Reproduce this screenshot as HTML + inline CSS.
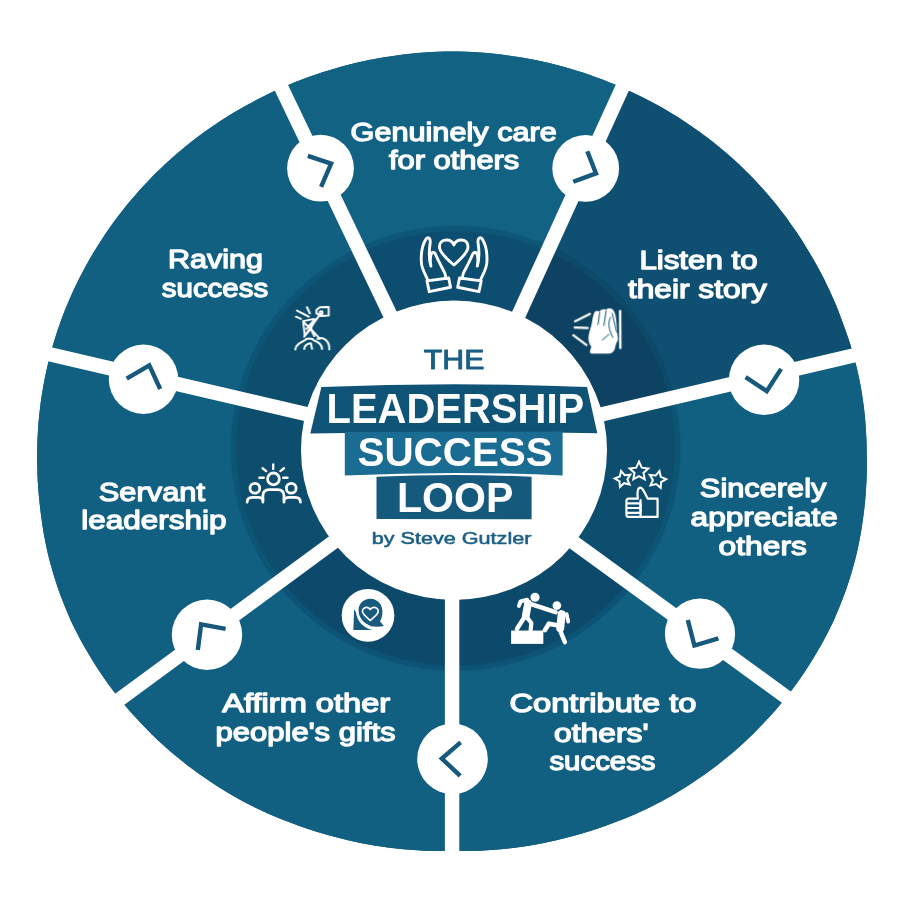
<!DOCTYPE html>
<html lang="en"><head><meta charset="utf-8"><title>The Leadership Success Loop</title>
<style>
html,body{margin:0;padding:0;background:#fff;}
body{width:900px;height:900px;overflow:hidden;font-family:'Liberation Sans', sans-serif;}
svg{display:block;}
</style></head><body>
<svg width="900" height="900" viewBox="0 0 900 900">
<defs>
<clipPath id="cOut"><path d="M37.2,451.5 L37.3,444.3 L37.6,437.0 L38.0,429.8 L38.5,422.6 L39.2,415.4 L40.0,408.2 L40.9,401.0 L42.0,393.8 L43.2,386.7 L44.5,379.6 L46.0,372.5 L47.6,365.5 L49.3,358.5 L51.1,351.5 L53.1,344.6 L55.2,337.7 L57.4,330.8 L59.8,324.0 L62.2,317.2 L64.8,310.5 L67.6,303.8 L70.4,297.2 L73.3,290.7 L76.4,284.2 L79.6,277.7 L82.9,271.4 L86.3,265.1 L89.9,258.8 L93.5,252.6 L97.3,246.5 L101.1,240.5 L105.0,234.5 L109.1,228.6 L113.2,222.8 L117.4,217.1 L121.8,211.4 L126.2,205.8 L130.8,200.3 L135.4,194.9 L140.1,189.6 L144.9,184.4 L149.8,179.2 L154.8,174.1 L159.9,169.2 L165.0,164.3 L170.3,159.5 L175.6,154.8 L181.0,150.2 L186.4,145.7 L192.0,141.3 L197.6,137.0 L203.3,132.8 L209.0,128.7 L214.8,124.7 L220.7,120.8 L226.6,117.0 L232.6,113.3 L238.7,109.8 L244.8,106.3 L251.0,102.9 L257.2,99.6 L263.4,96.4 L269.7,93.3 L276.1,90.3 L282.5,87.4 L288.9,84.7 L295.4,82.0 L301.9,79.5 L308.5,77.0 L315.1,74.7 L321.7,72.5 L328.4,70.4 L335.1,68.4 L341.8,66.5 L348.6,64.7 L355.4,63.0 L362.2,61.5 L369.0,60.0 L375.9,58.7 L382.8,57.5 L389.7,56.4 L396.6,55.4 L403.5,54.5 L410.4,53.7 L417.4,53.1 L424.4,52.5 L431.3,52.1 L438.3,51.8 L445.3,51.6 L452.2,51.5 L459.2,51.6 L466.2,51.8 L473.2,52.1 L480.1,52.6 L487.1,53.1 L494.1,53.8 L501.0,54.6 L507.9,55.4 L514.8,56.4 L521.7,57.6 L528.6,58.8 L535.4,60.1 L542.3,61.6 L549.1,63.1 L555.9,64.8 L562.6,66.6 L569.4,68.5 L576.0,70.5 L582.7,72.6 L589.3,74.8 L595.9,77.2 L602.5,79.6 L609.0,82.2 L615.5,84.8 L621.9,87.6 L628.3,90.5 L634.7,93.4 L641.0,96.5 L647.3,99.7 L653.5,103.0 L659.6,106.3 L665.7,109.8 L671.8,113.4 L677.8,117.1 L683.7,120.9 L689.6,124.9 L695.4,128.9 L701.1,133.0 L706.8,137.2 L712.4,141.5 L717.9,145.9 L723.3,150.4 L728.7,155.0 L734.0,159.7 L739.2,164.5 L744.3,169.4 L749.4,174.4 L754.3,179.5 L759.1,184.7 L763.9,190.0 L768.6,195.4 L773.1,200.8 L777.6,206.3 L782.0,211.9 L786.3,217.6 L790.4,223.4 L794.5,229.2 L798.5,235.1 L802.4,241.1 L806.1,247.2 L809.8,253.3 L813.5,259.4 L817.0,265.7 L820.4,271.9 L823.7,278.3 L826.8,284.7 L829.9,291.2 L832.8,297.7 L835.7,304.3 L838.4,311.0 L840.9,317.7 L843.4,324.4 L845.8,331.2 L848.2,338.0 L850.4,344.8 L852.4,351.7 L854.4,358.7 L856.2,365.6 L857.9,372.7 L859.4,379.7 L860.8,386.8 L862.0,393.9 L863.0,401.1 L864.0,408.2 L864.8,415.4 L865.4,422.6 L865.9,429.8 L866.3,437.0 L866.6,444.3 L866.7,451.5 L866.9,458.7 L866.9,466.0 L866.8,473.2 L866.5,480.5 L866.1,487.7 L865.6,494.9 L865.0,502.2 L864.2,509.4 L863.3,516.6 L862.3,523.8 L861.2,531.0 L859.9,538.1 L858.5,545.3 L856.9,552.4 L855.2,559.5 L853.3,566.5 L851.3,573.5 L849.1,580.4 L846.8,587.4 L844.4,594.2 L841.8,601.0 L839.1,607.8 L836.3,614.5 L833.4,621.2 L830.2,627.7 L826.9,634.2 L823.5,640.7 L820.0,647.0 L816.3,653.3 L812.6,659.5 L808.7,665.7 L804.8,671.8 L800.7,677.8 L796.5,683.7 L792.2,689.5 L787.8,695.3 L783.2,700.9 L778.6,706.5 L773.9,711.9 L769.1,717.3 L764.1,722.6 L759.1,727.8 L754.1,732.9 L748.9,738.0 L743.6,742.9 L738.3,747.7 L732.9,752.4 L727.4,757.1 L721.8,761.6 L716.2,766.0 L710.4,770.3 L704.6,774.5 L698.7,778.6 L692.8,782.6 L686.8,786.5 L680.7,790.2 L674.6,793.9 L668.4,797.5 L662.2,800.9 L655.9,804.3 L649.5,807.4 L643.1,810.5 L636.7,813.4 L630.2,816.3 L623.6,819.0 L617.0,821.6 L610.4,824.1 L603.7,826.5 L597.1,828.7 L590.3,830.9 L583.6,833.0 L576.8,835.0 L570.1,836.8 L563.2,838.6 L556.4,840.2 L549.6,841.8 L542.7,843.2 L535.8,844.5 L528.9,845.7 L521.9,846.7 L515.0,847.7 L508.0,848.5 L501.1,849.2 L494.1,849.8 L487.1,850.3 L480.2,850.7 L473.2,850.9 L466.2,851.1 L459.2,851.1 L452.2,851.0 L445.3,851.1 L438.3,851.1 L431.3,850.9 L424.3,850.7 L417.4,850.3 L410.4,849.8 L403.4,849.2 L396.5,848.5 L389.5,847.7 L382.6,846.7 L375.6,845.7 L368.7,844.5 L361.8,843.2 L354.9,841.8 L348.1,840.2 L341.3,838.6 L334.4,836.8 L327.7,835.0 L320.9,833.0 L314.2,830.9 L307.4,828.7 L300.8,826.5 L294.1,824.1 L287.5,821.6 L280.9,819.0 L274.3,816.3 L267.8,813.4 L261.4,810.5 L255.0,807.4 L248.6,804.3 L242.3,800.9 L236.1,797.5 L229.9,793.9 L223.8,790.2 L217.7,786.5 L211.7,782.6 L205.8,778.6 L199.9,774.5 L194.1,770.3 L188.3,766.0 L182.7,761.6 L177.1,757.1 L171.6,752.4 L166.2,747.7 L160.9,742.9 L155.6,738.0 L150.4,732.9 L145.4,727.8 L140.4,722.6 L135.4,717.3 L130.6,711.9 L125.9,706.5 L121.3,700.9 L116.7,695.3 L112.3,689.5 L108.0,683.7 L103.8,677.8 L99.7,671.8 L95.8,665.7 L91.9,659.5 L88.2,653.3 L84.5,647.0 L81.0,640.7 L77.6,634.2 L74.3,627.7 L71.1,621.2 L68.2,614.5 L65.4,607.8 L62.7,601.0 L60.1,594.2 L57.7,587.4 L55.4,580.4 L53.2,573.5 L51.2,566.5 L49.3,559.5 L47.6,552.4 L46.0,545.3 L44.6,538.1 L43.3,531.0 L42.2,523.8 L41.2,516.6 L40.3,509.4 L39.5,502.2 L38.8,495.0 L38.2,487.7 L37.7,480.5 L37.4,473.2 L37.2,466.0 L37.1,458.7Z"/></clipPath>
<clipPath id="cRing2"><ellipse cx="455.6" cy="448.4" rx="219.5" ry="217.1"/></clipPath>
<clipPath id="cRing"><ellipse cx="455.6" cy="448.4" rx="225.0" ry="222.6"/></clipPath>
<filter id="soft" x="-10%" y="-10%" width="120%" height="120%"><feGaussianBlur stdDeviation="0.6"/></filter>
<radialGradient id="ringShade" gradientUnits="userSpaceOnUse" cx="454" cy="450" r="226"><stop offset="0.66" stop-color="#04283f" stop-opacity="0.0"/><stop offset="1" stop-color="#04283f" stop-opacity="0"/></radialGradient>
</defs>
<rect width="900" height="900" fill="#ffffff"/>
<path d="M37.2,451.5 L37.3,444.3 L37.6,437.0 L38.0,429.8 L38.5,422.6 L39.2,415.4 L40.0,408.2 L40.9,401.0 L42.0,393.8 L43.2,386.7 L44.5,379.6 L46.0,372.5 L47.6,365.5 L49.3,358.5 L51.1,351.5 L53.1,344.6 L55.2,337.7 L57.4,330.8 L59.8,324.0 L62.2,317.2 L64.8,310.5 L67.6,303.8 L70.4,297.2 L73.3,290.7 L76.4,284.2 L79.6,277.7 L82.9,271.4 L86.3,265.1 L89.9,258.8 L93.5,252.6 L97.3,246.5 L101.1,240.5 L105.0,234.5 L109.1,228.6 L113.2,222.8 L117.4,217.1 L121.8,211.4 L126.2,205.8 L130.8,200.3 L135.4,194.9 L140.1,189.6 L144.9,184.4 L149.8,179.2 L154.8,174.1 L159.9,169.2 L165.0,164.3 L170.3,159.5 L175.6,154.8 L181.0,150.2 L186.4,145.7 L192.0,141.3 L197.6,137.0 L203.3,132.8 L209.0,128.7 L214.8,124.7 L220.7,120.8 L226.6,117.0 L232.6,113.3 L238.7,109.8 L244.8,106.3 L251.0,102.9 L257.2,99.6 L263.4,96.4 L269.7,93.3 L276.1,90.3 L282.5,87.4 L288.9,84.7 L295.4,82.0 L301.9,79.5 L308.5,77.0 L315.1,74.7 L321.7,72.5 L328.4,70.4 L335.1,68.4 L341.8,66.5 L348.6,64.7 L355.4,63.0 L362.2,61.5 L369.0,60.0 L375.9,58.7 L382.8,57.5 L389.7,56.4 L396.6,55.4 L403.5,54.5 L410.4,53.7 L417.4,53.1 L424.4,52.5 L431.3,52.1 L438.3,51.8 L445.3,51.6 L452.2,51.5 L459.2,51.6 L466.2,51.8 L473.2,52.1 L480.1,52.6 L487.1,53.1 L494.1,53.8 L501.0,54.6 L507.9,55.4 L514.8,56.4 L521.7,57.6 L528.6,58.8 L535.4,60.1 L542.3,61.6 L549.1,63.1 L555.9,64.8 L562.6,66.6 L569.4,68.5 L576.0,70.5 L582.7,72.6 L589.3,74.8 L595.9,77.2 L602.5,79.6 L609.0,82.2 L615.5,84.8 L621.9,87.6 L628.3,90.5 L634.7,93.4 L641.0,96.5 L647.3,99.7 L653.5,103.0 L659.6,106.3 L665.7,109.8 L671.8,113.4 L677.8,117.1 L683.7,120.9 L689.6,124.9 L695.4,128.9 L701.1,133.0 L706.8,137.2 L712.4,141.5 L717.9,145.9 L723.3,150.4 L728.7,155.0 L734.0,159.7 L739.2,164.5 L744.3,169.4 L749.4,174.4 L754.3,179.5 L759.1,184.7 L763.9,190.0 L768.6,195.4 L773.1,200.8 L777.6,206.3 L782.0,211.9 L786.3,217.6 L790.4,223.4 L794.5,229.2 L798.5,235.1 L802.4,241.1 L806.1,247.2 L809.8,253.3 L813.5,259.4 L817.0,265.7 L820.4,271.9 L823.7,278.3 L826.8,284.7 L829.9,291.2 L832.8,297.7 L835.7,304.3 L838.4,311.0 L840.9,317.7 L843.4,324.4 L845.8,331.2 L848.2,338.0 L850.4,344.8 L852.4,351.7 L854.4,358.7 L856.2,365.6 L857.9,372.7 L859.4,379.7 L860.8,386.8 L862.0,393.9 L863.0,401.1 L864.0,408.2 L864.8,415.4 L865.4,422.6 L865.9,429.8 L866.3,437.0 L866.6,444.3 L866.7,451.5 L866.9,458.7 L866.9,466.0 L866.8,473.2 L866.5,480.5 L866.1,487.7 L865.6,494.9 L865.0,502.2 L864.2,509.4 L863.3,516.6 L862.3,523.8 L861.2,531.0 L859.9,538.1 L858.5,545.3 L856.9,552.4 L855.2,559.5 L853.3,566.5 L851.3,573.5 L849.1,580.4 L846.8,587.4 L844.4,594.2 L841.8,601.0 L839.1,607.8 L836.3,614.5 L833.4,621.2 L830.2,627.7 L826.9,634.2 L823.5,640.7 L820.0,647.0 L816.3,653.3 L812.6,659.5 L808.7,665.7 L804.8,671.8 L800.7,677.8 L796.5,683.7 L792.2,689.5 L787.8,695.3 L783.2,700.9 L778.6,706.5 L773.9,711.9 L769.1,717.3 L764.1,722.6 L759.1,727.8 L754.1,732.9 L748.9,738.0 L743.6,742.9 L738.3,747.7 L732.9,752.4 L727.4,757.1 L721.8,761.6 L716.2,766.0 L710.4,770.3 L704.6,774.5 L698.7,778.6 L692.8,782.6 L686.8,786.5 L680.7,790.2 L674.6,793.9 L668.4,797.5 L662.2,800.9 L655.9,804.3 L649.5,807.4 L643.1,810.5 L636.7,813.4 L630.2,816.3 L623.6,819.0 L617.0,821.6 L610.4,824.1 L603.7,826.5 L597.1,828.7 L590.3,830.9 L583.6,833.0 L576.8,835.0 L570.1,836.8 L563.2,838.6 L556.4,840.2 L549.6,841.8 L542.7,843.2 L535.8,844.5 L528.9,845.7 L521.9,846.7 L515.0,847.7 L508.0,848.5 L501.1,849.2 L494.1,849.8 L487.1,850.3 L480.2,850.7 L473.2,850.9 L466.2,851.1 L459.2,851.1 L452.2,851.0 L445.3,851.1 L438.3,851.1 L431.3,850.9 L424.3,850.7 L417.4,850.3 L410.4,849.8 L403.4,849.2 L396.5,848.5 L389.5,847.7 L382.6,846.7 L375.6,845.7 L368.7,844.5 L361.8,843.2 L354.9,841.8 L348.1,840.2 L341.3,838.6 L334.4,836.8 L327.7,835.0 L320.9,833.0 L314.2,830.9 L307.4,828.7 L300.8,826.5 L294.1,824.1 L287.5,821.6 L280.9,819.0 L274.3,816.3 L267.8,813.4 L261.4,810.5 L255.0,807.4 L248.6,804.3 L242.3,800.9 L236.1,797.5 L229.9,793.9 L223.8,790.2 L217.7,786.5 L211.7,782.6 L205.8,778.6 L199.9,774.5 L194.1,770.3 L188.3,766.0 L182.7,761.6 L177.1,757.1 L171.6,752.4 L166.2,747.7 L160.9,742.9 L155.6,738.0 L150.4,732.9 L145.4,727.8 L140.4,722.6 L135.4,717.3 L130.6,711.9 L125.9,706.5 L121.3,700.9 L116.7,695.3 L112.3,689.5 L108.0,683.7 L103.8,677.8 L99.7,671.8 L95.8,665.7 L91.9,659.5 L88.2,653.3 L84.5,647.0 L81.0,640.7 L77.6,634.2 L74.3,627.7 L71.1,621.2 L68.2,614.5 L65.4,607.8 L62.7,601.0 L60.1,594.2 L57.7,587.4 L55.4,580.4 L53.2,573.5 L51.2,566.5 L49.3,559.5 L47.6,552.4 L46.0,545.3 L44.6,538.1 L43.3,531.0 L42.2,523.8 L41.2,516.6 L40.3,509.4 L39.5,502.2 L38.8,495.0 L38.2,487.7 L37.7,480.5 L37.4,473.2 L37.2,466.0 L37.1,458.7Z" fill="#116082"/>
<g clip-path="url(#cOut)">
<path d="M455.3,450.4 L152.6,-180.8 L189.2,-409.0 L317.2,-438.2 L448.1,-448.5 L579.1,-439.6 L707.4,-411.8 L746.4,-184.0 L455.6,452.7Z" fill="#126284"/>
<path d="M455.6,452.7 L746.4,-184.0 L948.8,-299.6 L1056.1,-216.5 L1149.7,-118.3 L1227.4,-7.1 L1287.5,114.5 L1134.1,290.0 L452.5,449.3Z" fill="#0e4f72"/>
<path d="M452.5,449.3 L1134.1,290.0 L1349.5,371.9 L1351.6,501.5 L1335.1,630.2 L1300.2,755.1 L1247.8,873.7 L1017.6,865.3 L451.5,453.6Z" fill="#116082"/>
<path d="M451.5,453.6 L1017.6,865.3 L1087.0,1090.3 L979.6,1181.3 L859.4,1254.5 L729.2,1308.1 L592.2,1340.7 L452.1,1151.5 L452.1,451.5Z" fill="#116082"/>
<path d="M452.1,451.5 L452.1,1151.5 L312.6,1340.5 L176.7,1308.1 L47.5,1255.0 L-71.9,1182.6 L-178.7,1092.6 L-109.6,868.1 L454.2,453.2Z" fill="#116082"/>
<path d="M454.2,453.2 L-109.6,868.1 L-340.1,876.9 L-393.3,757.7 L-428.7,632.2 L-445.5,502.8 L-443.5,372.3 L-228.1,289.8 L453.7,448.3Z" fill="#116082"/>
<path d="M453.7,448.3 L-228.1,289.8 L-382.1,115.9 L-323.0,-4.4 L-246.7,-114.6 L-154.9,-212.2 L-49.6,-295.1 L152.6,-180.8 L455.3,450.4Z" fill="#116082"/>
</g>
<g filter="url(#soft)"><g clip-path="url(#cRing)">
<path d="M455.3,450.4 L152.6,-180.8 L189.2,-409.0 L317.2,-438.2 L448.1,-448.5 L579.1,-439.6 L707.4,-411.8 L746.4,-184.0 L455.6,452.7Z" fill="#0f5677"/>
<path d="M455.6,452.7 L746.4,-184.0 L948.8,-299.6 L1056.1,-216.5 L1149.7,-118.3 L1227.4,-7.1 L1287.5,114.5 L1134.1,290.0 L452.5,449.3Z" fill="#0c4868"/>
<path d="M452.5,449.3 L1134.1,290.0 L1349.5,371.9 L1351.6,501.5 L1335.1,630.2 L1300.2,755.1 L1247.8,873.7 L1017.6,865.3 L451.5,453.6Z" fill="#0f5576"/>
<path d="M451.5,453.6 L1017.6,865.3 L1087.0,1090.3 L979.6,1181.3 L859.4,1254.5 L729.2,1308.1 L592.2,1340.7 L452.1,1151.5 L452.1,451.5Z" fill="#0e5374"/>
<path d="M452.1,451.5 L452.1,1151.5 L312.6,1340.5 L176.7,1308.1 L47.5,1255.0 L-71.9,1182.6 L-178.7,1092.6 L-109.6,868.1 L454.2,453.2Z" fill="#0e5374"/>
<path d="M454.2,453.2 L-109.6,868.1 L-340.1,876.9 L-393.3,757.7 L-428.7,632.2 L-445.5,502.8 L-443.5,372.3 L-228.1,289.8 L453.7,448.3Z" fill="#0f5576"/>
<path d="M453.7,448.3 L-228.1,289.8 L-382.1,115.9 L-323.0,-4.4 L-246.7,-114.6 L-154.9,-212.2 L-49.6,-295.1 L152.6,-180.8 L455.3,450.4Z" fill="#0f5576"/>
</g></g>
<g filter="url(#soft)"><g clip-path="url(#cRing2)">
<path d="M455.3,450.4 L152.6,-180.8 L189.2,-409.0 L317.2,-438.2 L448.1,-448.5 L579.1,-439.6 L707.4,-411.8 L746.4,-184.0 L455.6,452.7Z" fill="#0d4e6f"/>
<path d="M455.6,452.7 L746.4,-184.0 L948.8,-299.6 L1056.1,-216.5 L1149.7,-118.3 L1227.4,-7.1 L1287.5,114.5 L1134.1,290.0 L452.5,449.3Z" fill="#0b4362"/>
<path d="M452.5,449.3 L1134.1,290.0 L1349.5,371.9 L1351.6,501.5 L1335.1,630.2 L1300.2,755.1 L1247.8,873.7 L1017.6,865.3 L451.5,453.6Z" fill="#0d4e6e"/>
<path d="M451.5,453.6 L1017.6,865.3 L1087.0,1090.3 L979.6,1181.3 L859.4,1254.5 L729.2,1308.1 L592.2,1340.7 L452.1,1151.5 L452.1,451.5Z" fill="#0c4a6a"/>
<path d="M452.1,451.5 L452.1,1151.5 L312.6,1340.5 L176.7,1308.1 L47.5,1255.0 L-71.9,1182.6 L-178.7,1092.6 L-109.6,868.1 L454.2,453.2Z" fill="#0c4a6a"/>
<path d="M454.2,453.2 L-109.6,868.1 L-340.1,876.9 L-393.3,757.7 L-428.7,632.2 L-445.5,502.8 L-443.5,372.3 L-228.1,289.8 L453.7,448.3Z" fill="#0d4e6e"/>
<path d="M453.7,448.3 L-228.1,289.8 L-382.1,115.9 L-323.0,-4.4 L-246.7,-114.6 L-154.9,-212.2 L-49.6,-295.1 L152.6,-180.8 L455.3,450.4Z" fill="#0d4e6e"/>
</g></g>
<line x1="412.0" y1="360.2" x2="256.4" y2="35.6" stroke="#fff" stroke-width="14.4"/>
<line x1="497.2" y1="361.7" x2="646.7" y2="34.3" stroke="#fff" stroke-width="14.4"/>
<line x1="549.9" y1="426.5" x2="900.4" y2="344.6" stroke="#fff" stroke-width="14.4"/>
<line x1="532.4" y1="512.4" x2="823.5" y2="724.2" stroke="#fff" stroke-width="14.4"/>
<line x1="452.1" y1="551.5" x2="452.1" y2="911.5" stroke="#fff" stroke-width="14.4"/>
<line x1="373.7" y1="512.5" x2="83.7" y2="725.8" stroke="#fff" stroke-width="14.4"/>
<line x1="356.3" y1="425.7" x2="5.7" y2="344.1" stroke="#fff" stroke-width="14.4"/>
<ellipse cx="454.0" cy="450.3" rx="153.0" ry="149.7" fill="#fff"/>
<circle cx="320.5" cy="168.2" r="33.4" fill="#fff"/>
<path d="M307.8,155.8 L331.1,163.6 L321.1,186.9" fill="none" stroke="#17587c" stroke-width="4.4" stroke-linejoin="miter" stroke-linecap="butt"/>
<circle cx="585.7" cy="168.3" r="33.4" fill="#fff"/>
<path d="M587.3,151.2 L596.0,173.4 L573.2,181.8" fill="none" stroke="#17587c" stroke-width="4.4" stroke-linejoin="miter" stroke-linecap="butt"/>
<circle cx="764.1" cy="379.7" r="35.2" fill="#fff"/>
<path d="M745.6,377.1 L766.7,391.1 L781.1,368.9" fill="none" stroke="#17587c" stroke-width="4.4" stroke-linejoin="miter" stroke-linecap="butt"/>
<circle cx="700.0" cy="633.7" r="35.1" fill="#fff"/>
<path d="M687.8,620.0 L694.4,645.6 L718.4,638.4" fill="none" stroke="#17587c" stroke-width="4.4" stroke-linejoin="miter" stroke-linecap="butt"/>
<circle cx="452.5" cy="758.9" r="35.3" fill="#fff"/>
<path d="M460.6,742.3 L441.8,758.5 L460.2,775.8" fill="none" stroke="#17587c" stroke-width="4.4" stroke-linejoin="miter" stroke-linecap="butt"/>
<circle cx="207.0" cy="634.7" r="35.2" fill="#fff"/>
<path d="M197.8,650.0 L201.1,624.4 L225.6,628.9" fill="none" stroke="#17587c" stroke-width="4.4" stroke-linejoin="miter" stroke-linecap="butt"/>
<circle cx="143.5" cy="379.2" r="34.7" fill="#fff"/>
<path d="M126.7,378.6 L149.3,365.4 L160.2,389.0" fill="none" stroke="#17587c" stroke-width="4.4" stroke-linejoin="miter" stroke-linecap="butt"/>
<path d="M321.4,387 Q454,381.5 587,387 L597.3,433.2 Q454,430.5 310.3,433.4 Z" fill="#0f5377"/>
<path d="M344.8,432 L562.6,431.5 L562.6,475.4 Q454,470.5 344.8,475.6 Z" fill="#1b6c93"/>
<path d="M376.5,476.7 Q454,473.5 531.6,476.7 L531.6,519.3 L376.5,519.0 Z" fill="#15597d"/>
<g opacity="0.999">
<text transform="translate(350.55,141.18) scale(1.2071,1)" font-family="'Liberation Sans', sans-serif" font-weight="normal" font-size="25.41" fill="#fff" stroke="#fff" stroke-width="1.3" stroke-linejoin="round">Genuinely care</text>
<text transform="translate(388.88,168.98) scale(1.2160,1)" font-family="'Liberation Sans', sans-serif" font-weight="normal" font-size="25.41" fill="#fff" stroke="#fff" stroke-width="1.3" stroke-linejoin="round">for others</text>
<text transform="translate(167.94,268.38) scale(1.2024,1)" font-family="'Liberation Sans', sans-serif" font-weight="normal" font-size="25.41" fill="#fff" stroke="#fff" stroke-width="1.3" stroke-linejoin="round">Raving</text>
<text transform="translate(161.80,297.48) scale(1.1590,1)" font-family="'Liberation Sans', sans-serif" font-weight="normal" font-size="25.41" fill="#fff" stroke="#fff" stroke-width="1.3" stroke-linejoin="round">success</text>
<text transform="translate(639.38,268.78) scale(1.2167,1)" font-family="'Liberation Sans', sans-serif" font-weight="normal" font-size="25.70" fill="#fff" stroke="#fff" stroke-width="1.3" stroke-linejoin="round">Listen to</text>
<text transform="translate(627.95,297.58) scale(1.2328,1)" font-family="'Liberation Sans', sans-serif" font-weight="normal" font-size="25.70" fill="#fff" stroke="#fff" stroke-width="1.3" stroke-linejoin="round">their story</text>
<text transform="translate(699.85,496.58) scale(1.1785,1)" font-family="'Liberation Sans', sans-serif" font-weight="normal" font-size="26.13" fill="#fff" stroke="#fff" stroke-width="1.3" stroke-linejoin="round">Sincerely</text>
<text transform="translate(690.62,526.28) scale(1.2075,1)" font-family="'Liberation Sans', sans-serif" font-weight="normal" font-size="26.13" fill="#fff" stroke="#fff" stroke-width="1.3" stroke-linejoin="round">appreciate</text>
<text transform="translate(718.61,554.78) scale(1.2151,1)" font-family="'Liberation Sans', sans-serif" font-weight="normal" font-size="26.13" fill="#fff" stroke="#fff" stroke-width="1.3" stroke-linejoin="round">others</text>
<text transform="translate(509.45,712.18) scale(1.2852,1)" font-family="'Liberation Sans', sans-serif" font-weight="normal" font-size="25.41" fill="#fff" stroke="#fff" stroke-width="1.3" stroke-linejoin="round">Contribute to</text>
<text transform="translate(554.11,741.98) scale(1.2509,1)" font-family="'Liberation Sans', sans-serif" font-weight="normal" font-size="25.41" fill="#fff" stroke="#fff" stroke-width="1.3" stroke-linejoin="round">others'</text>
<text transform="translate(549.40,770.48) scale(1.1568,1)" font-family="'Liberation Sans', sans-serif" font-weight="normal" font-size="25.41" fill="#fff" stroke="#fff" stroke-width="1.3" stroke-linejoin="round">success</text>
<text transform="translate(222.28,712.38) scale(1.2686,1)" font-family="'Liberation Sans', sans-serif" font-weight="normal" font-size="25.70" fill="#fff" stroke="#fff" stroke-width="1.3" stroke-linejoin="round">Affirm other</text>
<text transform="translate(215.62,741.28) scale(1.2060,1)" font-family="'Liberation Sans', sans-serif" font-weight="normal" font-size="25.70" fill="#fff" stroke="#fff" stroke-width="1.3" stroke-linejoin="round">people's gifts</text>
<text transform="translate(98.84,501.28) scale(1.1789,1)" font-family="'Liberation Sans', sans-serif" font-weight="normal" font-size="26.13" fill="#fff" stroke="#fff" stroke-width="1.3" stroke-linejoin="round">Servant</text>
<text transform="translate(81.18,528.68) scale(1.2062,1)" font-family="'Liberation Sans', sans-serif" font-weight="normal" font-size="26.13" fill="#fff" stroke="#fff" stroke-width="1.3" stroke-linejoin="round">leadership</text>
<text transform="translate(423.80,368.54) scale(1.0896,1)" font-family="'Liberation Sans', sans-serif" font-weight="normal" font-size="27.81" fill="#1b5f85" stroke="#1b5f85" stroke-width="0.9" stroke-linejoin="round">THE</text>
<text transform="translate(326.50,423.30) scale(0.9258,1)" font-family="'Liberation Sans', sans-serif" font-weight="bold" font-size="43.19" fill="#fff">LEADERSHIP</text>
<text transform="translate(357.49,466.40) scale(0.9747,1)" font-family="'Liberation Sans', sans-serif" font-weight="bold" font-size="41.45" fill="#fff">SUCCESS</text>
<text transform="translate(396.92,511.90) scale(0.9580,1)" font-family="'Liberation Sans', sans-serif" font-weight="bold" font-size="42.90" fill="#fff">LOOP</text>
<text transform="translate(371.73,543.58) scale(1.3430,1)" font-family="'Liberation Sans', sans-serif" font-weight="normal" font-size="16.09" fill="#1b5f85" stroke="#1b5f85" stroke-width="0.55" stroke-linejoin="round">by Steve Gutzler</text>
</g>
<g transform="translate(400,220) scale(0.11111)"><g fill="none" stroke="#fff" stroke-width="26" stroke-linejoin="round" stroke-linecap="round"><path d="M485,405 C440,365 355,300 355,240 C355,200 385,180 420,180 C450,180 475,200 485,225 C495,200 520,180 550,180 C585,180 612,200 612,240 C612,300 530,365 485,405 Z"/><path d="M252,545 C225,480 195,440 192,380 C188,300 205,215 235,170 C250,150 275,160 272,200 C265,250 252,330 278,415 C268,350 272,310 292,292 C305,285 318,300 325,320 C350,380 385,440 402,475 C410,495 412,510 413,528"/><path d="M243,548 L438,522 L455,605 L263,645 Z"/><g transform="translate(974,0) scale(-1,1)"><path d="M252,545 C225,480 195,440 192,380 C188,300 205,215 235,170 C250,150 275,160 272,200 C265,250 252,330 278,415 C268,350 272,310 292,292 C305,285 318,300 325,320 C350,380 385,440 402,475 C410,495 412,510 413,528"/><path d="M243,548 L438,522 L455,605 L263,645 Z"/></g></g></g>
<g transform="translate(550,280) scale(0.11111)"><g stroke="#fff" stroke-width="20" stroke-linecap="round" fill="none"><path d="M225,372 L360,305"/><path d="M222,428 L340,432"/><path d="M210,497 L328,585"/></g><path d="M400,290 C410,275 430,272 445,285 C455,265 485,255 505,268 C520,250 560,250 572,275 C590,300 592,330 596,360 L612,540 C600,560 592,575 588,600 C582,640 560,662 530,662 L372,662 C360,660 356,648 362,630 L372,600 C350,570 342,540 348,500 C352,460 370,430 378,380 C383,345 390,310 400,290 Z" fill="#fff"/><g stroke="#0f5273" stroke-width="9" stroke-linecap="round" fill="none"><path d="M448,292 L432,400"/><path d="M505,278 L485,410"/><path d="M545,335 C520,380 525,440 565,515"/><path d="M470,540 L530,490"/><path d="M560,300 L600,470"/></g><path d="M631,270 L633,620" stroke="#fff" stroke-width="22" fill="none"/></g>
<g transform="translate(590,440) scale(0.11111)"><g fill="none" stroke="#fff" stroke-width="18" stroke-linejoin="miter"><path d="M279.6,278.3 L312.2,316.8 L362.5,311.7 L335.9,354.7 L356.2,400.9 L307.2,388.9 L269.5,422.5 L265.8,372.1 L222.2,346.7 L268.9,327.6Z"/><path d="M441.0,195.0 L465.7,249.0 L524.7,255.8 L480.9,296.0 L492.7,354.2 L441.0,325.0 L389.3,354.2 L401.1,296.0 L357.3,255.8 L416.3,249.0Z"/><path d="M625.4,279.4 L636.6,331.3 L685.8,351.4 L639.9,378.2 L636.0,431.2 L596.3,395.8 L544.7,408.4 L566.1,359.8 L538.2,314.6 L591.0,319.9Z"/></g><g fill="none" stroke="#fff" stroke-width="20" stroke-linejoin="round" stroke-linecap="round"><path d="M452,692 L345,692 C330,692 328,680 328,670 L328,550 C328,535 335,528 350,528 L430,528 C425,480 428,440 445,430 C465,425 480,450 490,470 L520,528 L608,528 L608,692 L452,692"/><path d="M335,570 L445,570 C460,575 460,605 445,612 L335,612"/><path d="M335,655 L445,655 C460,650 460,618 445,612"/><path d="M455,540 L455,690"/></g></g>
<g transform="translate(490,575) scale(0.11111)"><rect x="190" y="500" width="290" height="120" fill="#fff"/><circle cx="405" cy="200" r="41" fill="#fff"/><circle cx="602" cy="275" r="39" fill="#fff"/><g fill="none" stroke="#fff" stroke-linecap="round" stroke-linejoin="round"><path d="M342,258 L322,368" stroke-width="70"/><path d="M335,222 L275,238 L260,278" stroke-width="36"/><path d="M370,262 L590,335" stroke-width="40"/><path d="M310,380 L242,486" stroke-width="40"/><path d="M332,380 L372,432 L366,492" stroke-width="38"/><path d="M645,352 L632,478" stroke-width="72"/><path d="M690,352 L704,420" stroke-width="34"/><path d="M615,455 L530,438 L494,496" stroke-width="42"/><path d="M632,500 L674,604" stroke-width="40"/></g></g>
<g transform="translate(318,566) scale(0.11111)"><circle cx="450" cy="445" r="237" fill="#fff"/><path d="M325,388 L318,575 L492,575 C420,562 350,500 343,420 Z" fill="#185a7e"/><path d="M365,400 C365,340 410,295 470,295 C535,295 580,345 580,410 C580,445 572,475 558,498 L592,540 C560,548 530,548 505,545 C440,540 365,480 365,400 Z" fill="#185a7e" stroke="#fff" stroke-width="12"/><path d="M365,400 C365,340 410,295 470,295 C535,295 580,345 580,410 C580,445 572,475 558,498 L592,540 C560,548 530,548 505,545 C440,540 365,480 365,400 Z" fill="#185a7e"/><path d="M470,490 C440,465 400,435 400,408 C400,385 420,372 440,372 C455,372 465,382 470,392 C475,382 487,372 502,372 C522,372 542,385 542,408 C542,435 500,465 470,490 Z" fill="none" stroke="#fff" stroke-width="15" stroke-linejoin="round"/></g>
<g transform="translate(224,438) scale(0.11111)"><g fill="none" stroke="#fff" stroke-width="25" stroke-linecap="round" stroke-linejoin="round"><circle cx="445" cy="368" r="53"/><circle cx="278" cy="452" r="44"/><circle cx="605" cy="452" r="44"/><path d="M350,578 L350,520 Q350,465 410,465 L480,465 Q540,465 540,520 L540,578"/><path d="M208,578 Q208,535 255,535 L310,535 Q338,535 350,555"/><path d="M688,578 Q688,535 640,535 L585,535 Q552,535 540,555"/></g><g fill="none" stroke="#fff" stroke-width="21" stroke-linecap="round"><path d="M443,238 L443,278"/><path d="M347,272 L380,298"/><path d="M540,272 L507,298"/><path d="M318,358 L358,358"/><path d="M532,358 L572,358"/></g></g>
<g transform="translate(262,280) scale(0.11111)"><g fill="none" stroke="#fff" stroke-width="18" stroke-linecap="round" stroke-linejoin="round"><path d="M315,275 L420,330"/><path d="M405,245 L430,300"/><path d="M305,330 L350,350"/><path d="M490,270 L520,245 L600,243 L600,320 L530,325 L490,300 Z"/><circle cx="532" cy="295" r="13"/><path d="M520,312 L380,510"/><path d="M370,370 L470,350 L440,440 L385,500 Z"/><path d="M375,380 L440,440"/><path d="M400,440 L470,360"/><path d="M440,440 L520,530"/><path d="M470,505 L440,440"/><path d="M300,625 C300,585 340,565 380,545 C400,520 450,520 470,545 C510,560 540,590 540,620"/><path d="M380,620 C380,590 410,570 440,570 L450,620"/><path d="M500,530 C560,500 610,560 605,625"/></g></g>
</svg>
</body></html>
